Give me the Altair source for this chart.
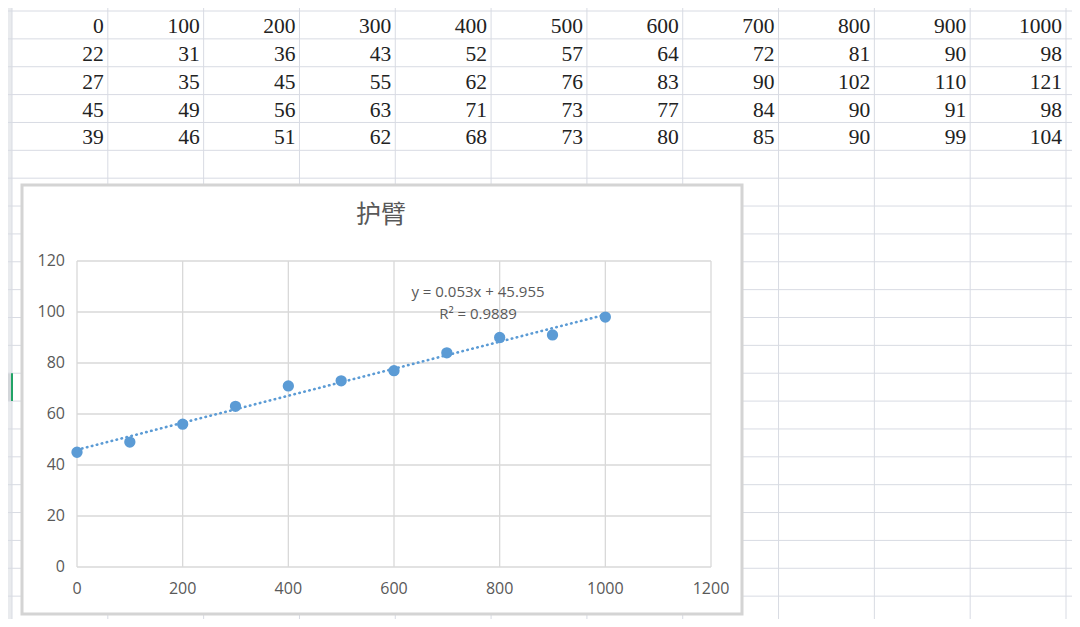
import altair as alt
import pandas as pd

# ---------------- data ----------------
x_vals = [0, 100, 200, 300, 400, 500, 600, 700, 800, 900, 1000]
row_2 = [22, 31, 36, 43, 52, 57, 64, 72, 81, 90, 98]
row_3 = [27, 35, 45, 55, 62, 76, 83, 90, 102, 110, 121]
row_4 = [45, 49, 56, 63, 71, 73, 77, 84, 90, 91, 98]
row_5 = [39, 46, 51, 62, 68, 73, 80, 85, 90, 99, 104]
table_rows = [x_vals, row_2, row_3, row_4, row_5]

x_ticks = [0, 200, 400, 600, 800, 1000, 1200]
y_ticks = [0, 20, 40, 60, 80, 100, 120]

chart_title = "护臂"
trend_eq = "y = 0.053x + 45.955"
trend_r2 = "R² = 0.9889"

# ---------------- layout / style ----------------
W, H = 1064, 611
N_COLS, N_ROWS = 11, 22
SELECTED_ROW = 13

SX = alt.Scale(domain=[0, N_COLS], range=[4, 1058], nice=False, zero=False)
SY = alt.Scale(domain=[0, N_ROWS], range=[3, 616], nice=False, zero=False)
PX = alt.Scale(domain=[0, 1200], range=[69, 703], nice=False, zero=False)
PY = alt.Scale(domain=[0, 120], range=[559, 253], nice=False, zero=False)

SHEET_LINE = "#d8dbe3"
GRID = "#d9d9d9"
LABEL = "#595959"
BLUE = "#5B9BD5"
LABEL_FONT = "Open Sans"

one = pd.DataFrame({"k": [0]})

# ---------------- spreadsheet background ----------------
row_head = alt.Chart(pd.DataFrame({"c0": [-1], "c1": [0], "r0": [-1], "r1": [N_ROWS + 1]})).mark_rect(
    color="#e9ebee", clip=True
).encode(
    x=alt.X("c0:Q", scale=SX, axis=None), x2="c1:Q",
    y=alt.Y("r0:Q", scale=SY, axis=None), y2="r1:Q",
)
row_sel = alt.Chart(pd.DataFrame({"c0": [-1], "c1": [0], "r0": [SELECTED_ROW], "r1": [SELECTED_ROW + 1]})).mark_rect(
    color="#d3d6da", clip=True
).encode(
    x=alt.X("c0:Q", scale=SX, axis=None), x2="c1:Q",
    y=alt.Y("r0:Q", scale=SY, axis=None), y2="r1:Q",
)
row_mark = alt.Chart(pd.DataFrame({"c": [0], "r0": [SELECTED_ROW], "r1": [SELECTED_ROW + 1]})).mark_rule(
    color="#21a366", strokeWidth=2, clip=True
).encode(
    x=alt.X("c:Q", scale=SX, axis=None),
    y=alt.Y("r0:Q", scale=SY, axis=None), y2="r1:Q",
)

vlines = alt.Chart(pd.DataFrame({"c": list(range(N_COLS + 1)), "r0": -1, "r1": N_ROWS + 1})).mark_rule(
    color=SHEET_LINE, strokeWidth=1, clip=True
).encode(
    x=alt.X("c:Q", scale=SX, axis=None),
    y=alt.Y("r0:Q", scale=SY, axis=None), y2="r1:Q",
)
hlines = alt.Chart(pd.DataFrame({"r": list(range(N_ROWS + 1)), "c0": -1, "c1": N_COLS + 1})).mark_rule(
    color=SHEET_LINE, strokeWidth=1, clip=True
).encode(
    y=alt.Y("r:Q", scale=SY, axis=None),
    x=alt.X("c0:Q", scale=SX, axis=None), x2="c1:Q",
)

cells = []
for j, row in enumerate(table_rows):
    for i, v in enumerate(row):
        cells.append({"c": i + 1, "r": j + 0.5, "t": str(v)})
cells_df = pd.DataFrame(cells)
table_text = alt.Chart(cells_df).mark_text(
    align="right", baseline="middle", dx=-4, dy=2,
    font="Liberation Serif", fontSize=21.5, color="#222222",
).encode(
    x=alt.X("c:Q", scale=SX, axis=None),
    y=alt.Y("r:Q", scale=SY, axis=None),
    text="t:N",
)

# ---------------- chart frame ----------------
frame = alt.Chart(one).mark_rect(fill="white", stroke="#d4d4d4", strokeWidth=3).encode(
    x=alt.value(14), x2=alt.value(734), y=alt.value(177), y2=alt.value(606)
)

# ---------------- scatter chart ----------------
pts_df = pd.DataFrame({"x": x_vals, "y": row_4})

gx = alt.Chart(pd.DataFrame({"x": x_ticks, "y0": 0, "y1": 120})).mark_rule(
    color=GRID, strokeWidth=1.3
).encode(
    x=alt.X("x:Q", scale=PX, axis=None),
    y=alt.Y("y0:Q", scale=PY, axis=None), y2="y1:Q",
)
gy = alt.Chart(pd.DataFrame({"y": y_ticks, "x0": 0, "x1": 1200})).mark_rule(
    color=GRID, strokeWidth=1.3
).encode(
    y=alt.Y("y:Q", scale=PY, axis=None),
    x=alt.X("x0:Q", scale=PX, axis=None), x2="x1:Q",
)

ylab = alt.Chart(pd.DataFrame({"v": y_ticks, "x": 0})).mark_text(
    align="right", baseline="middle", dx=-12, font=LABEL_FONT, fontSize=16, color=LABEL
).encode(
    x=alt.X("x:Q", scale=PX, axis=None),
    y=alt.Y("v:Q", scale=PY, axis=None),
    text="v:Q",
)
xlab = alt.Chart(pd.DataFrame({"v": x_ticks, "y": 0})).mark_text(
    align="center", baseline="middle", dy=22, font=LABEL_FONT, fontSize=16, color=LABEL
).encode(
    x=alt.X("v:Q", scale=PX, axis=None),
    y=alt.Y("y:Q", scale=PY, axis=None),
    text="v:Q",
)

trend = alt.Chart(pts_df).transform_regression("x", "y", extent=[0, 1000]).mark_line(
    color=BLUE, strokeWidth=2.6, strokeDash=[0.5, 4.6], strokeCap="round"
).encode(
    x=alt.X("x:Q", scale=PX, axis=None),
    y=alt.Y("y:Q", scale=PY, axis=None),
)

points = alt.Chart(pts_df).mark_circle(size=128, color=BLUE, opacity=1).encode(
    x=alt.X("x:Q", scale=PX, axis=None),
    y=alt.Y("y:Q", scale=PY, axis=None),
)

tlab = alt.Chart(pd.DataFrame({"x": [759, 759], "y": [107.8, 99.3], "t": [trend_eq, trend_r2]})).mark_text(
    align="center", baseline="middle", font=LABEL_FONT, fontSize=15, color=LABEL
).encode(
    x=alt.X("x:Q", scale=PX, axis=None),
    y=alt.Y("y:Q", scale=PY, axis=None),
    text="t:N",
)

title = alt.Chart(one).mark_text(
    align="center", baseline="middle", font="Noto Sans CJK SC", fontSize=25, color=LABEL
).encode(
    x=alt.value(373), y=alt.value(207), text=alt.value(chart_title)
)

chart = alt.layer(
    row_head, row_sel, vlines, hlines, row_mark, table_text,
    frame,
    gx, gy, ylab, xlab, trend, points, tlab, title,
).resolve_scale(
    x="independent", y="independent"
).properties(
    width=W, height=H, padding=0,
    autosize=alt.AutoSizeParams(type="none"),
    background="white",
).configure_view(stroke=None)

chart.save("out.html", embed_options={"renderer": "svg", "actions": False})
